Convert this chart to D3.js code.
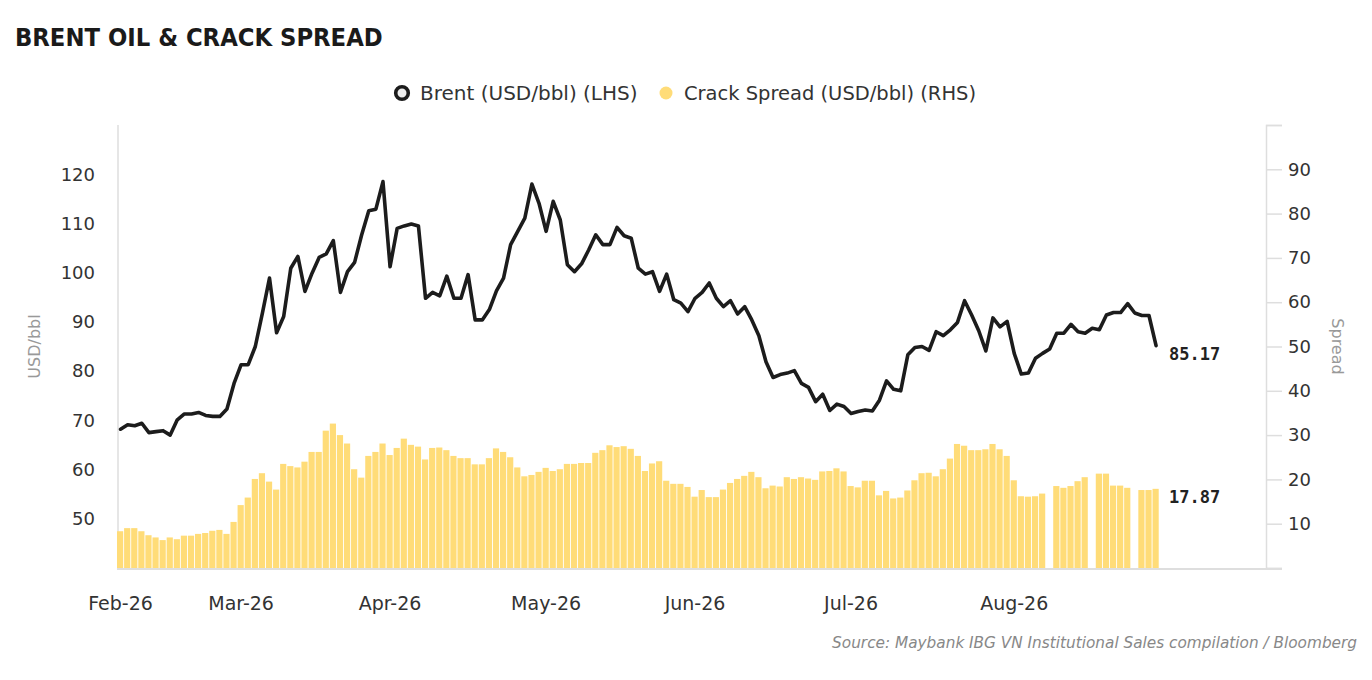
<!DOCTYPE html>
<html>
<head>
<meta charset="utf-8">
<title>Brent oil & crack spread</title>
<script src="https://cdn.jsdelivr.net/npm/d3@7"></script>
<style>
  body { margin: 0; background: #fff; }
  svg { display: block; font-family: "DejaVu Sans", sans-serif; }
</style>
</head>
<body>
<svg id="chart"></svg>
<script>
"use strict";

// month labels and the trading-day index where each month starts
const monthLabels = ["Feb-26", "Mar-26", "Apr-26", "May-26", "Jun-26", "Jul-26", "Aug-26"];
const monthStarts = [0, 17, 38, 60, 81, 103, 126];

// Brent, USD/bbl (LHS), one value per trading day
const brent = [
  68.2, 69.1, 68.9, 69.4, 67.5, 67.7, 67.9, 67.0, 70.1, 71.3,
  71.3, 71.6, 71.0, 70.8, 70.8, 72.3, 77.5, 81.3, 81.3, 85.0,
  91.8, 98.9, 87.8, 91.1, 100.9, 103.3, 96.2, 99.9, 103.1, 103.8,
  106.5, 96.0, 100.2, 102.1, 107.7, 112.6, 112.9, 118.5, 101.2, 109.0,
  109.5, 109.9, 109.5, 94.8, 96.0, 95.3, 99.3, 94.8, 94.8, 99.6,
  90.4, 90.4, 92.5, 96.3, 98.9, 105.7, 108.4, 111.1, 118.0, 114.1,
  108.4, 114.5, 110.7, 101.6, 100.2, 101.8, 104.6, 107.7, 105.7, 105.7,
  109.2, 107.5, 107.0, 100.9, 99.7, 100.2, 96.2, 99.7, 94.5, 93.8,
  92.1, 94.8, 96.0, 97.9, 94.8, 93.1, 94.3, 91.6, 93.1, 90.4,
  87.2, 81.9, 78.7, 79.3, 79.6, 80.1, 77.5, 76.7, 73.8, 75.3,
  72.0, 73.3, 72.8, 71.4, 71.8, 72.1, 71.9, 74.1, 78.0, 76.3,
  76.0, 83.3, 84.8, 85.0, 84.2, 88.0, 87.2, 88.4, 89.9, 94.3,
  91.4, 88.2, 84.1, 90.8, 89.0, 90.1, 83.6, 79.4, 79.6, 82.6,
  83.6, 84.5, 87.7, 87.7, 89.5, 88.0, 87.7, 88.7, 88.4, 91.4,
  91.9, 91.9, 93.7, 91.8, 91.3, 91.3, 85.17
];

// Crack spread, USD/bbl (RHS); null = no print that day
const crack = [
  8.3, 9.0, 9.0, 8.3, 7.4, 6.9, 6.3, 6.9, 6.5, 7.3,
  7.3, 7.7, 7.9, 8.4, 8.6, 7.7, 10.4, 14.2, 15.9, 20.1,
  21.4, 19.5, 17.7, 23.5, 23.0, 22.7, 24.0, 26.2, 26.2, 31.0,
  32.6, 30.0, 28.1, 22.3, 20.4, 25.3, 26.2, 28.1, 25.5, 27.1,
  29.2, 27.8, 27.4, 24.5, 27.1, 27.2, 26.6, 25.3, 24.8, 24.8,
  23.4, 23.4, 24.8, 27.0, 26.2, 25.0, 22.7, 20.7, 21.0, 21.7,
  22.6, 21.9, 22.3, 23.5, 23.5, 23.7, 23.7, 26.0, 26.6, 27.7,
  27.3, 27.5, 26.9, 25.3, 21.9, 23.6, 24.1, 19.7, 19.0, 19.0,
  18.3, 16.1, 17.6, 16.0, 16.0, 17.7, 19.2, 20.1, 20.8, 21.7,
  20.5, 18.0, 18.6, 18.4, 20.5, 20.1, 20.5, 20.2, 19.9, 21.8,
  21.9, 22.5, 21.8, 18.5, 18.2, 19.7, 19.7, 16.4, 17.4, 15.7,
  15.9, 17.5, 19.8, 21.4, 21.5, 20.7, 22.3, 24.7, 28.0, 27.6,
  26.6, 26.6, 26.8, 28.0, 26.8, 25.3, 19.8, 16.2, 16.1, 16.2,
  16.8, null, 18.5, 18.1, 18.5, 19.6, 20.5, null, 21.3, 21.3,
  18.6, 18.6, 18.1, null, 17.6, 17.6, 17.87
];

const leftTicks = [50, 60, 70, 80, 90, 100, 110, 120];
const rightTicks = [0, 10, 20, 30, 40, 50, 60, 70, 80, 90, 100];

const titleText = "BRENT OIL & CRACK SPREAD";
const legendItems = ["Brent (USD/bbl) (LHS)", "Crack Spread (USD/bbl) (RHS)"];
const leftTitle = "USD/bbl";
const rightTitle = "Spread";
const sourceText = "Source: Maybank IBG VN Institutional Sales compilation / Bloomberg";

const width = 1372;
const height = 680;
const plot = { left: 117, right: 1266, top: 125, bottom: 568 };
const slotCount = 162; // x axis runs a bit past the last trading day

const lineColor = "#1c1c1c";
const barColor = "#ffdc78";
const gridColor = "#dedede";

const svg = d3.select("#chart").attr("width", width).attr("height", height);

const x = d3.scaleLinear()
  .domain([-0.5, slotCount - 0.5])
  .range([plot.left, plot.right]);
const yLeft = d3.scaleLinear().domain([40, 130]).range([plot.bottom, plot.top]);
const yRight = d3.scaleLinear().domain([0, 100]).range([plot.bottom, plot.top]);

const step = x(1) - x(0);

// title
svg.append("text")
  .attr("x", 15)
  .attr("y", 46)
  .attr("font-family", "DejaVu Sans Condensed, DejaVu Sans, sans-serif")
  .attr("font-weight", "bold")
  .attr("font-size", 25.3)
  .attr("fill", "#1a1a1a")
  .text(titleText);

/**
 * Draws the legend row under the title.
 */
function drawLegend() {
  const g = svg.append("g").attr("font-size", 20).attr("fill", "#333");

  g.append("circle")
    .attr("cx", 402).attr("cy", 93).attr("r", 6.3)
    .attr("fill", "#eee").attr("stroke", lineColor).attr("stroke-width", 3.6);
  g.append("text")
    .attr("x", 420).attr("y", 93).attr("dy", "0.35em")
    .text(legendItems[0]);

  g.append("circle")
    .attr("cx", 666).attr("cy", 93).attr("r", 6.5)
    .attr("fill", barColor);
  g.append("text")
    .attr("x", 684).attr("y", 93).attr("dy", "0.35em")
    .attr("textLength", 292).attr("lengthAdjust", "spacingAndGlyphs")
    .text(legendItems[1]);
}

/**
 * Draws axis lines, ticks and their labels.
 */
function drawAxes() {
  // left axis: plain line, labels only
  svg.append("line")
    .attr("x1", plot.left + 1).attr("x2", plot.left + 1)
    .attr("y1", plot.top).attr("y2", plot.bottom + 1)
    .attr("stroke", gridColor).attr("stroke-width", 1.5);

  svg.append("g")
    .attr("font-size", 18).attr("fill", "#333").attr("text-anchor", "end")
    .selectAll("text")
    .data(leftTicks)
    .join("text")
    .attr("x", 95)
    .attr("y", (d) => yLeft(d))
    .attr("dy", "0.35em")
    .text((d) => d);

  // right axis with short ticks
  const right = svg.append("g")
    .attr("transform", `translate(${plot.right},0)`)
    .call(d3.axisRight(yRight).tickValues(rightTicks).tickSize(16).tickPadding(6)
      .tickFormat((d) => (d === 0 || d === 100 ? "" : d)));
  right.select(".domain").attr("stroke", gridColor).attr("stroke-width", 1.5);
  right.selectAll(".tick line").attr("stroke", gridColor).attr("stroke-width", 1.5);
  right.selectAll(".tick text")
    .attr("font-family", "DejaVu Sans, sans-serif")
    .attr("font-size", 18).attr("fill", "#333");

  // bottom axis line
  svg.append("line")
    .attr("x1", plot.left).attr("x2", plot.right + 16)
    .attr("y1", plot.bottom + 1).attr("y2", plot.bottom + 1)
    .attr("stroke", gridColor).attr("stroke-width", 2);

  svg.append("g")
    .attr("font-size", 19).attr("fill", "#333").attr("text-anchor", "middle")
    .selectAll("text")
    .data(monthLabels)
    .join("text")
    .attr("x", (d, i) => x(monthStarts[i]))
    .attr("y", 610)
    .text((d) => d);

  // axis titles
  svg.append("text")
    .attr("transform", `translate(40,${(plot.top + plot.bottom) / 2}) rotate(-90)`)
    .attr("text-anchor", "middle")
    .attr("font-size", 16).attr("fill", "#999")
    .text(leftTitle);

  svg.append("text")
    .attr("transform", `translate(1332,${(plot.top + plot.bottom) / 2}) rotate(90)`)
    .attr("text-anchor", "middle")
    .attr("font-size", 16).attr("fill", "#999")
    .text(rightTitle);
}

/**
 * Draws the crack spread bars and the Brent line, plus end-value labels.
 */
function drawSeries() {
  svg.append("g")
    .selectAll("rect")
    .data(crack.map((v, i) => ({ i, v })).filter((d) => d.v !== null))
    .join("rect")
    .attr("x", (d) => x(d.i) - step / 2)
    .attr("width", step - 0.9)
    .attr("y", (d) => yRight(d.v))
    .attr("height", (d) => yRight(0) - yRight(d.v))
    .attr("fill", barColor);

  const line = d3.line()
    .x((d, i) => x(i))
    .y((d) => yLeft(d));

  svg.append("path")
    .datum(brent)
    .attr("d", line)
    .attr("fill", "none")
    .attr("stroke", lineColor)
    .attr("stroke-width", 3.6)
    .attr("stroke-linejoin", "round")
    .attr("stroke-linecap", "round");

  const last = brent.length - 1;
  const labels = svg.append("g")
    .attr("font-family", "DejaVu Sans Mono, monospace")
    .attr("font-weight", "bold")
    .attr("font-size", 17)
    .attr("fill", "#222");

  labels.append("text")
    .attr("x", x(last) + 13)
    .attr("y", yLeft(brent[last]) + 8)
    .attr("dy", "0.35em")
    .text(brent[last].toFixed(2));

  labels.append("text")
    .attr("x", x(last) + 13)
    .attr("y", yRight(crack[last]) + 8)
    .attr("dy", "0.35em")
    .text(crack[last].toFixed(2));
}

drawLegend();
drawAxes();
drawSeries();

// source note
svg.append("text")
  .attr("x", 1357)
  .attr("y", 648)
  .attr("text-anchor", "end")
  .attr("font-style", "italic")
  .attr("font-size", 15.3)
  .attr("fill", "#888")
  .text(sourceText);
</script>
</body>
</html>
